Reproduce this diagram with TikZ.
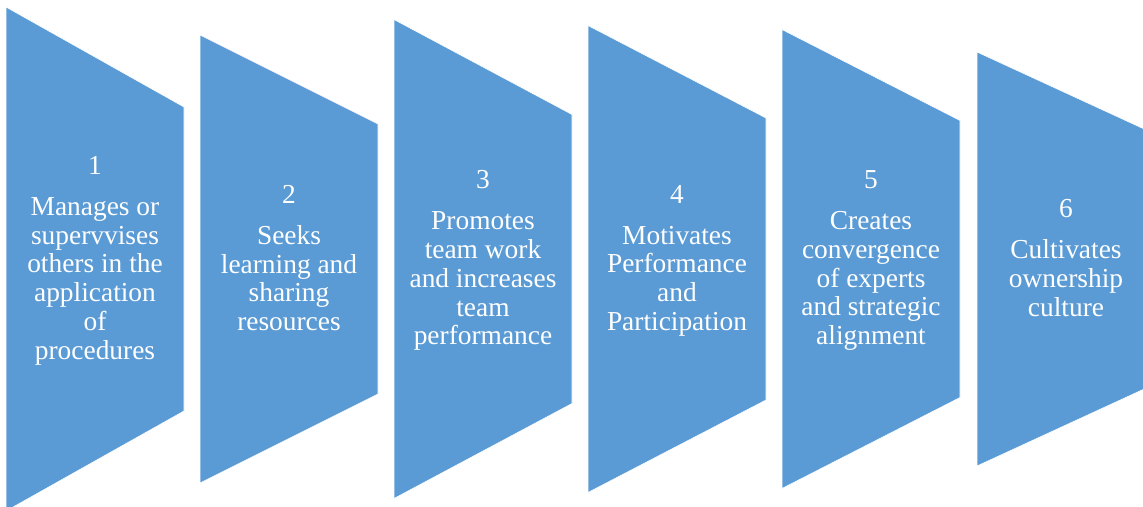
\documentclass[tikz,border=0pt]{standalone}
\usepackage{fontspec}
\setmainfont{Liberation Serif}
\definecolor{stepblue}{HTML}{5B9BD5}
\tikzset{
  stage/.style={fill=stepblue, draw=white, line width=0.6pt},
  stagetext/.style={text=white, align=center, anchor=north, inner sep=0pt,
    font=\fontsize{27.4}{28.7}\selectfont}
}
% space between the step number and its description
\newcommand{\gapnum}{\\[12.3pt]}
\begin{document}
\begin{tikzpicture}[x=1pt, y=-1pt]
  \useasboundingbox (0,0) rectangle (1143,506);
  \clip (0,0) rectangle (1143,506);
  % trapezoidal stages: left x, right x, half heights on both sides, centred on y=259
  \foreach \lx/\rx/\lh/\rh/\nm in {6/184/252/152/s1, 200/378/224/135/s2, 394/572/239.5/144.5/s3,
      588/766/233.5/141/s4, 782/960/229.5/138.5/s5, 977/1155/207/125/s6} {
    \path[stage] (\lx,259-\lh) -- (\rx,259-\rh) -- (\rx,259+\rh) -- (\lx,259+\lh) -- cycle;
    \coordinate (\nm) at ({(\lx+\rx)/2},259);
  }
  \node[stagetext] (t1) at (95,156.3) {1\gapnum Manages or\\ supervvises\\ others in the\\ application\\ of\\ procedures};
  \node[stagetext] (t2) at (289,185.0) {2\gapnum Seeks\\ learning and\\ sharing\\ resources};
  \node[stagetext] (t3) at (483,170.6) {3\gapnum Promotes\\ team work\\ and increases\\ team\\ performance};
  \node[stagetext] (t4) at (677,185.0) {4\gapnum Motivates\\ Performance\\ and\\ Participation};
  \node[stagetext] (t5) at (871,170.6) {5\gapnum Creates\\ convergence\\ of experts\\ and strategic\\ alignment};
  \node[stagetext] (t6) at (1066,199.3) {6\gapnum Cultivates\\ ownership\\ culture};
\end{tikzpicture}
\end{document}
